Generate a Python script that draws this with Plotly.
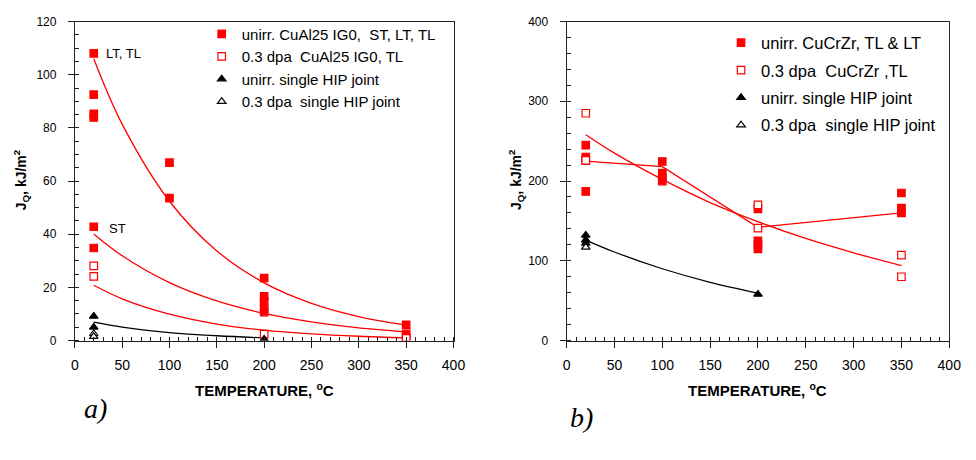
import plotly.graph_objects as go

# ---------------- panel a) CuAl25 IG0 ----------------
a_unirr_T = [20, 20, 20, 20, 20, 20, 100, 100, 200, 200, 200, 200, 200, 350, 350, 350]
a_unirr_J = [108, 92.5, 85.3, 83.9, 42.8, 34.8, 66.9, 53.6, 23.5, 16.6, 14.6, 12.0, 10.7, 5.9, 2.5, 1.2]
a_irr_T = [20, 20, 200, 350]
a_irr_J = [28.1, 24.1, 2.4, 0.8]
a_hip_unirr_T = [20, 20, 200]
a_hip_unirr_J = [9.1, 5.0, 0.5]
a_hip_irr_T = [20, 20]
a_hip_irr_J = [2.6, 1.5]

# exponential trend curves
a_fit_T = [20, 50, 100, 150, 200, 250, 300, 350]
a_fit_lt_tl = [106, 81.4, 52.4, 33.7, 21.7, 14.0, 9.0, 5.8]
a_fit_st = [40.1, 31.9, 21.8, 14.9, 10.2, 7.0, 4.8, 3.3]
a_fit_irr = [20.8, 15.7, 9.9, 6.2, 3.9, 2.5, 1.6, 1.0]
a_fit_hip_T = [20, 50, 100, 150, 200]
a_fit_hip = [6.9, 5.05, 3.0, 1.8, 1.0]

# ---------------- panel b) CuCrZr ----------------
b_unirr_T = [20, 20, 20, 20, 100, 100, 100, 100, 200, 200, 200, 200, 350, 350, 350]
b_unirr_J = [245, 230, 226, 187, 224.5, 210, 205, 200, 165, 125, 120, 115, 185, 166, 160]
b_irr_T = [20, 20, 200, 200, 350, 350]
b_irr_J = [285, 226, 170, 141, 107, 80]
b_hip_unirr_T = [20, 20, 20, 200]
b_hip_unirr_J = [132, 126, 122, 58]
b_hip_irr_T = [20]
b_hip_irr_J = [117]

b_line_T = [20, 100, 200, 350]
b_line_unirr = [225, 218, 142, 160]
b_fit_T = [20, 50, 100, 150, 200, 250, 300, 350]
b_fit_irr = [258, 235, 202, 173, 149, 128, 110, 94]
b_fit_hip_T = [20, 50, 100, 150, 200]
b_fit_hip = [126, 111, 90, 73, 59.5]

x_ticks = [0, 50, 100, 150, 200, 250, 300, 350, 400]

RED = "#FF0000"
FONT = "Arial, Liberation Sans, sans-serif"

fig = go.Figure()


def curve(x, y, color, xa, ya, shape="spline"):
    fig.add_trace(go.Scatter(
        x=x, y=y, mode="lines", xaxis=xa, yaxis=ya, showlegend=False,
        line=dict(color=color, width=1.3, shape=shape), hoverinfo="skip"))


def points(x, y, symbol, color, fill, name, xa, ya, legend):
    fig.add_trace(go.Scatter(
        x=x, y=y, mode="markers", name=name, xaxis=xa, yaxis=ya,
        legend=legend, legendgroup=name,
        marker=dict(symbol=symbol, size=7.5, color=fill,
                    line=dict(color=color, width=1.2))))


# panel a curves
curve(a_fit_T, a_fit_lt_tl, RED, "x", "y")
curve(a_fit_T, a_fit_st, RED, "x", "y")
curve(a_fit_T, a_fit_irr, RED, "x", "y")
curve(a_fit_hip_T, a_fit_hip, "black", "x", "y")

points(a_unirr_T, a_unirr_J, "square", RED, RED, "unirr. CuAl25 IG0,&nbsp; ST, LT, TL", "x", "y", "legend")
points(a_irr_T, a_irr_J, "square", RED, "white", "0.3 dpa&nbsp; CuAl25 IG0, TL", "x", "y", "legend")
points(a_hip_unirr_T, a_hip_unirr_J, "triangle-up", "black", "black", "unirr. single HIP joint", "x", "y", "legend")
points(a_hip_irr_T, a_hip_irr_J, "triangle-up", "black", "white", "0.3 dpa&nbsp; single HIP joint", "x", "y", "legend")

# panel b curves
curve(b_line_T, b_line_unirr, RED, "x2", "y2", shape="linear")
curve(b_fit_T, b_fit_irr, RED, "x2", "y2")
curve(b_fit_hip_T, b_fit_hip, "black", "x2", "y2")

points(b_unirr_T, b_unirr_J, "square", RED, RED, "unirr. CuCrZr, TL &amp; LT", "x2", "y2", "legend2")
points(b_irr_T, b_irr_J, "square", RED, "white", "0.3 dpa&nbsp; CuCrZr ,TL", "x2", "y2", "legend2")
points(b_hip_unirr_T, b_hip_unirr_J, "triangle-up", "black", "black", "unirr. single HIP joint ", "x2", "y2", "legend2")
points(b_hip_irr_T, b_hip_irr_J, "triangle-up", "black", "white", "0.3 dpa&nbsp; single HIP joint ", "x2", "y2", "legend2")

W, H = 976, 460
y_dom = [1 - 344 / H, 1 - 15 / H]

axis_common = dict(
    showline=True, linecolor="#222", linewidth=1, mirror=True,
    ticks="outside", ticklen=6, tickcolor="#222", tickwidth=1,
    showgrid=False, zeroline=False,
    tickfont=dict(family=FONT, size=12, color="black"),
)

xaxis_common = dict(axis_common, range=[0, 400], tickvals=x_ticks,
                    tickfont=dict(family=FONT, size=14, color="black"),
                    minor=dict(dtick=10, ticks="inside", ticklen=4, tickcolor="#222"),
                    ticklabelstandoff=6)

fig.update_layout(
    width=W, height=H, autosize=False,
    margin=dict(l=0, r=0, t=0, b=0),
    paper_bgcolor="white", plot_bgcolor="white",
    font=dict(family=FONT, color="black"),
    xaxis=dict(xaxis_common, domain=[72 / W, 457 / W], anchor="y"),
    yaxis=dict(axis_common, domain=y_dom, anchor="x", range=[0, 120], dtick=20,
               minor=dict(dtick=5, ticks="inside", ticklen=4, tickcolor="#222"),
               ticklabelstandoff=9),
    xaxis2=dict(xaxis_common, domain=[572 / W, 961 / W], anchor="y2"),
    yaxis2=dict(axis_common, domain=y_dom, anchor="x2", range=[0, 400], dtick=100,
                minor=dict(dtick=20, ticks="inside", ticklen=4, tickcolor="#222"),
                ticklabelstandoff=9),
    legend=dict(x=201 / W, y=1 - 11 / H, xanchor="left", yanchor="top",
                bgcolor="rgba(0,0,0,0)", font=dict(family=FONT, size=15, color="black"),
                tracegroupgap=0),
    legend2=dict(x=729 / W, y=1 - 19 / H, xanchor="left", yanchor="top",
                 bgcolor="rgba(0,0,0,0)", font=dict(family=FONT, size=16.5, color="black"),
                 tracegroupgap=3),
)

ytitle = "<b>J<sub>Q</sub>, kJ/m<sup>2</sup></b>"
xtitle = "<b>TEMPERATURE, <sup>o</sup>C</b>"
title_font = dict(family=FONT, size=14, color="black")


def paper_text(x, y, text, font, angle=0):
    fig.add_annotation(x=x / W, y=1 - y / H, xref="paper", yref="paper", text=text,
                       textangle=angle, showarrow=False, font=font,
                       xanchor="center", yanchor="middle")


paper_text(17, 178, ytitle, title_font, -90)
paper_text(520, 178, ytitle, title_font, -90)
paper_text((72 + 457) / 2, 394, xtitle, dict(title_font, size=15))
paper_text((572 + 961) / 2, 394, xtitle, dict(title_font, size=15))

# point labels in panel a
fig.add_annotation(x=20, y=108, xref="x", yref="y", text="LT, TL", showarrow=False,
                   xanchor="left", yanchor="middle", xshift=10, font=dict(family=FONT, size=13))
fig.add_annotation(x=20, y=42.8, xref="x", yref="y", text="ST", showarrow=False,
                   xanchor="left", yanchor="middle", xshift=13, yshift=-2, font=dict(family=FONT, size=13))

# panel letters
letter_font = dict(family="Liberation Serif, Times New Roman, serif", size=28, color="black")
paper_text(93, 414, "<i>a)</i>", letter_font)
paper_text(587, 423, "<i>b)</i>", letter_font)

fig.write_html("out.html")
